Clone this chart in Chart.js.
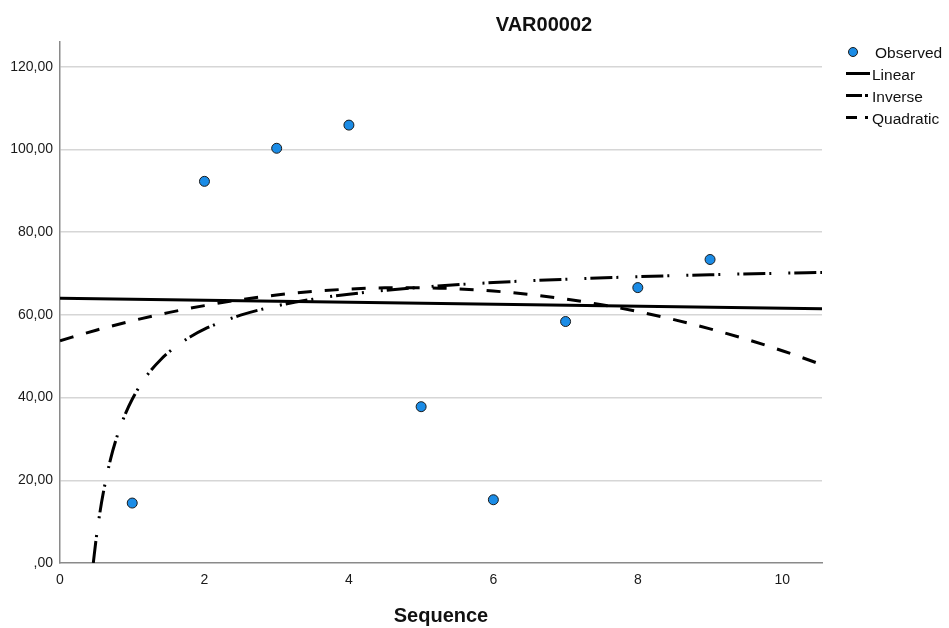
<!DOCTYPE html>
<html>
<head>
<meta charset="utf-8">
<script src="https://cdn.jsdelivr.net/npm/chart.js@4/dist/chart.umd.min.js"></script>
<style>
html,body{margin:0;padding:0;background:#fff;}
#wrap{width:949px;height:628px;position:relative;}
</style>
</head>
<body>
<div id="wrap"><canvas id="c" width="949" height="628"></canvas></div>
<script>
// Observed data
const seqX = [1, 2, 3, 4, 5, 6, 7, 8, 9];
const observedY = [14.5, 92.3, 100.3, 105.9, 37.8, 15.3, 58.4, 66.6, 73.4];
// Linear fit
const linearX = [0, 10.55];
const linearY = [64.04, 61.49];
// Inverse fit
const inverseX = [0.461, 0.5, 0.55, 0.6, 0.7, 0.8, 0.9, 1.0, 1.2, 1.4, 1.6, 1.8, 2, 2.5, 3, 3.5, 4, 5, 6, 7, 8, 9, 10, 10.55];
const inverseY = [0.0, 5.77, 11.92, 17.05, 25.11, 31.16, 35.86, 39.62, 45.26, 49.29, 52.31, 54.66, 56.55, 59.93, 62.19, 63.80, 65.01, 66.70, 67.83, 68.63, 69.24, 69.71, 70.09, 70.26];
// Quadratic fit
const quadX = [0, 0.5, 1, 1.5, 2, 2.5, 3, 3.5, 4, 4.5, 5, 5.5, 6, 6.5, 7, 7.5, 8, 8.5, 9, 9.5, 10, 10.55];
const quadY = [53.76, 56.30, 58.57, 60.55, 62.25, 63.67, 64.81, 65.67, 66.25, 66.55, 66.57, 66.31, 65.77, 64.95, 63.84, 62.46, 60.80, 58.86, 56.63, 54.13, 51.34, 47.96];
// Tick values
const xTicks = [0, 2, 4, 6, 8, 10];
const yTicks = [0, 20, 40, 60, 80, 100, 120];
const seriesNames = ['Observed', 'Linear', 'Inverse', 'Quadratic'];

const pts = (xs, ys) => xs.map((x, i) => ({x: x, y: ys[i]}));
const FONT = '"Liberation Sans", Arial, sans-serif';
const INV_DASH = [22, 4, 2, 17, 2, 4];
const QUAD_DASH = [14, 13];
const BLUE = '#1b8ce6';

const overlay = {
  id: 'overlay',
  afterDraw(chart) {
    const ctx = chart.ctx;
    const ca = chart.chartArea;
    ctx.save();
    ctx.fillStyle = '#111';
    ctx.textAlign = 'center';
    ctx.textBaseline = 'middle';
    ctx.font = 'bold 20px ' + FONT;
    ctx.fillText('VAR00002', 544, 25);
    ctx.fillText('Sequence', (ca.left + ca.right) / 2, 616);

    // legend
    ctx.font = '15.5px ' + FONT;
    ctx.textAlign = 'left';
    // Observed
    ctx.beginPath();
    ctx.arc(853, 52, 4.5, 0, Math.PI * 2);
    ctx.fillStyle = BLUE;
    ctx.fill();
    ctx.lineWidth = 1;
    ctx.strokeStyle = '#1b1b1b';
    ctx.stroke();
    ctx.fillStyle = '#111';
    ctx.fillText(seriesNames[0], 875, 54);
    ctx.strokeStyle = '#000';
    ctx.lineWidth = 3;
    // Linear
    ctx.setLineDash([]);
    ctx.beginPath(); ctx.moveTo(846, 73.5); ctx.lineTo(870, 73.5); ctx.stroke();
    ctx.fillText(seriesNames[1], 872, 76);
    // Inverse
    ctx.beginPath(); ctx.moveTo(846, 95.5); ctx.lineTo(862, 95.5); ctx.stroke();
    ctx.beginPath(); ctx.moveTo(865, 95.5); ctx.lineTo(868, 95.5); ctx.stroke();
    ctx.fillText(seriesNames[2], 872, 98);
    // Quadratic
    ctx.beginPath(); ctx.moveTo(846, 117.5); ctx.lineTo(857, 117.5); ctx.stroke();
    ctx.beginPath(); ctx.moveTo(865, 117.5); ctx.lineTo(868, 117.5); ctx.stroke();
    ctx.fillText(seriesNames[3], 872, 120);
    ctx.restore();
  }
};

new Chart(document.getElementById('c'), {
  type: 'scatter',
  data: {
    datasets: [
      {
        label: seriesNames[0],
        data: pts(seqX, observedY),
        pointRadius: 5,
        pointBackgroundColor: BLUE,
        pointBorderColor: '#1b1b1b',
        pointBorderWidth: 1,
        showLine: false,
        order: 0
      },
      {
        label: seriesNames[1],
        data: pts(linearX, linearY),
        showLine: true,
        borderColor: '#000',
        borderWidth: 3,
        pointRadius: 0,
        order: 1
      },
      {
        label: seriesNames[2],
        data: pts(inverseX, inverseY),
        showLine: true,
        borderColor: '#000',
        borderWidth: 3,
        borderDash: INV_DASH,
        pointRadius: 0,
        cubicInterpolationMode: 'monotone',
        order: 2
      },
      {
        label: seriesNames[3],
        data: pts(quadX, quadY),
        showLine: true,
        borderColor: '#000',
        borderWidth: 3,
        borderDash: QUAD_DASH,
        pointRadius: 0,
        cubicInterpolationMode: 'monotone',
        order: 3
      }
    ]
  },
  options: {
    responsive: false,
    animation: false,
    events: [],
    layout: {padding: {left: 0, right: 127, top: 42, bottom: 0}},
    plugins: {
      legend: {display: false},
      title: {display: false},
      tooltip: {enabled: false}
    },
    scales: {
      x: {
        type: 'linear',
        min: 0,
        max: 10.55,
        afterFit(s) { s.height = 65; },
        afterBuildTicks(s) { s.ticks = xTicks.map(v => ({value: v})); },
        grid: {color: 'transparent', drawTicks: false},
        border: {display: true, color: '#8a8a8a', width: 1.5},
        ticks: {
          padding: 9,
          color: '#1a1a1a',
          font: {family: FONT, size: 14},
          callback: v => String(v)
        }
      },
      y: {
        type: 'linear',
        min: 0,
        max: 126,
        afterFit(s) { s.width = 60; },
        afterBuildTicks(s) { s.ticks = yTicks.map(v => ({value: v})); },
        grid: {
          color: c => (c.tick && c.tick.value === 0) ? 'transparent' : '#d6d6d6',
          lineWidth: 1.5,
          drawTicks: false
        },
        border: {display: true, color: '#8a8a8a', width: 1.5},
        ticks: {
          padding: 7,
          color: '#1a1a1a',
          font: {family: FONT, size: 14},
          callback: v => v === 0 ? ',00' : Number(v).toFixed(2).replace('.', ',')
        }
      }
    }
  },
  plugins: [overlay]
});
</script>
</body>
</html>
